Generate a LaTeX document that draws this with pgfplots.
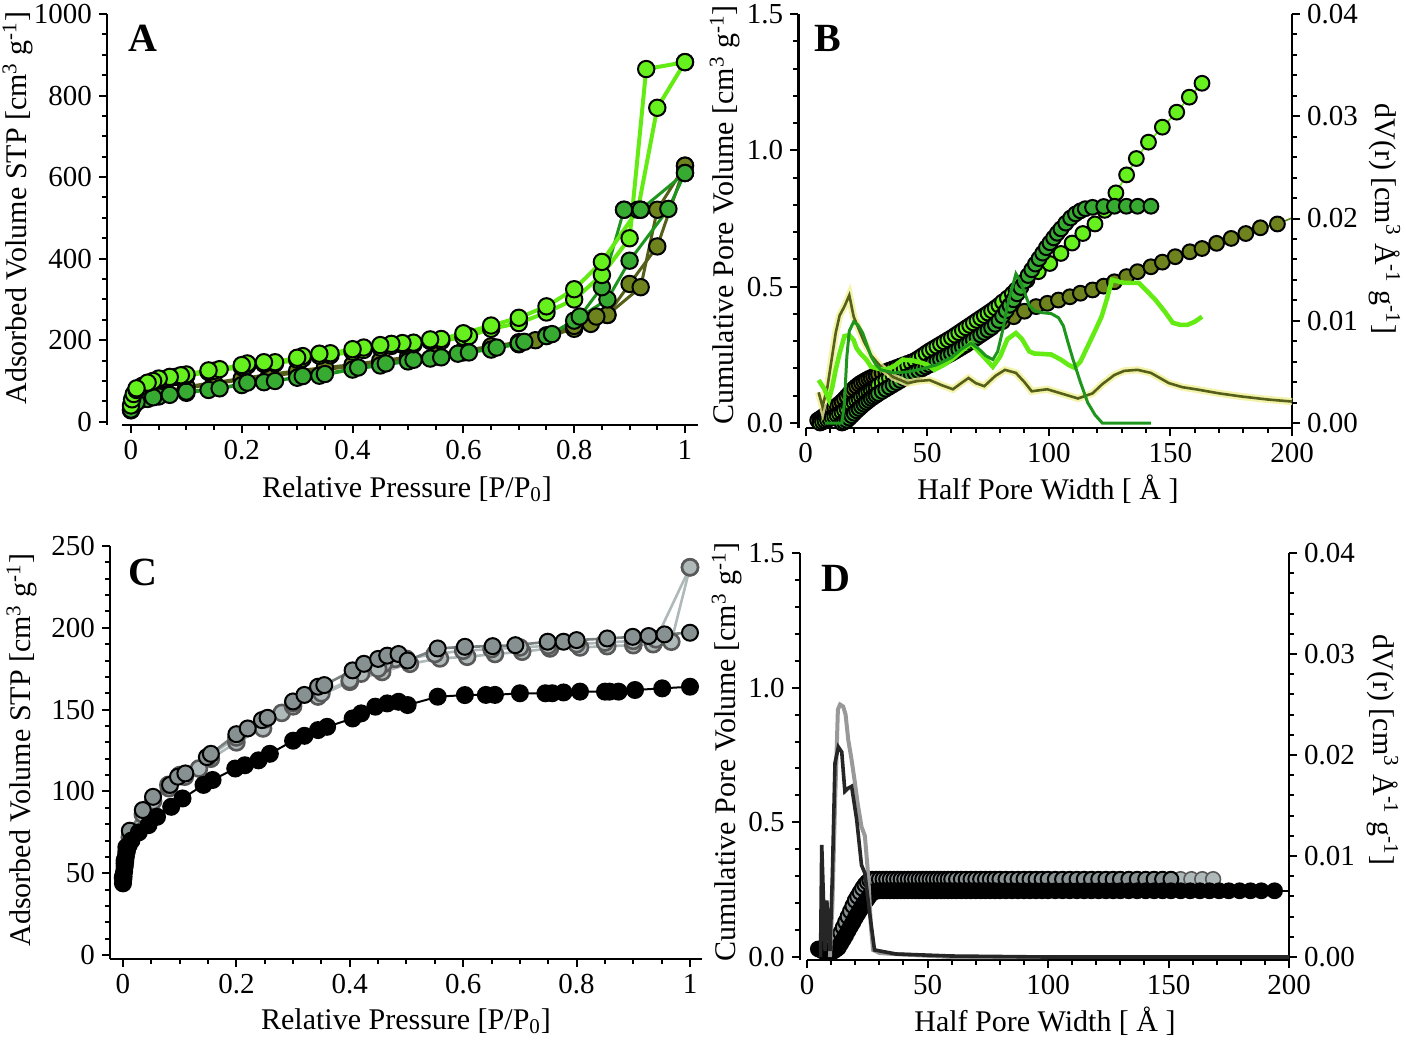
\documentclass[border=0pt]{standalone}
\usepackage{pgfplots}
\pgfplotsset{compat=1.18}
\usepackage{fontspec}
\setmainfont{Liberation Serif}

\definecolor{lgr}{RGB}{102,240,30}
\definecolor{lgrline}{RGB}{100,235,20}
\definecolor{mgr}{RGB}{55,170,50}
\definecolor{mgrline}{RGB}{30,150,30}
\definecolor{olv}{RGB}{110,130,30}
\definecolor{olvline}{RGB}{85,95,25}
\definecolor{glow}{RGB}{240,240,150}
\definecolor{gfill}{RGB}{135,145,145}
\definecolor{gline}{RGB}{120,128,128}
\definecolor{lgfill}{RGB}{210,218,218}
\definecolor{lgline}{RGB}{175,185,185}

\newcommand\tk{\fontsize{14.5}{16}\selectfont}
\newcommand\lb{\fontsize{15}{17}\selectfont}

\pgfplotsset{
  igor/.style={
    scale only axis, anchor=south west, clip=false,
    axis x line*=bottom, axis y line*=left,
    axis line style={-, line width=1.3pt},
    tick align=outside,
    major tick length=4pt, minor tick length=2.4pt,
    every tick/.style={black, line width=1pt},
    tick label style={font=\tk},
    /pgf/number format/assume math mode=true,
    /pgf/number format/1000 sep={},
    scaled ticks=false,
  },
  mk/.style 2 args={mark=*, mark size=#2, mark options={solid, fill=#1, draw=black, line width=1pt}},
}

\begin{document}
\begin{tikzpicture}
\path[use as bounding box] (0,0) rectangle (703pt,-520.5pt);

% ---------------- A ----------------
\begin{axis}[igor, at={(53.5pt,-212.5pt)}, width=295.5pt, height=205.5pt,
  xmin=-0.0433, xmax=1.0235, ymin=-8, ymax=1000,
  xtick={0,0.2,0.4,0.6,0.8,1}, minor x tick num=3,
  ytick={0,200,400,600,800,1000}, minor y tick num=3,
  x axis line style={shorten <=7.5pt}]
% olive
\addplot[olvline, line width=1.5pt, mk={olv}{4.1pt}] coordinates {
(0,28)(0.005,40)(0.01,48)(0.03,58)(0.05,66)(0.1,82)(0.15,93)(0.2,103)(0.25,112)(0.3,120)(0.35,128)(0.4,136)(0.45,144)(0.5,152)(0.55,160)(0.6,170)(0.65,180)(0.7,190)(0.73,200)(0.8,228)(0.83,240)(0.86,262)(0.9,338)(0.95,430)(1.0,628)};
\addplot[olvline, line width=1.5pt, mk={olv}{4.1pt}] coordinates {
(1.0,628)(0.95,520)(0.92,330)(0.86,262)(0.84,258)(0.8,235)(0.75,212)(0.7,195)(0.65,185)(0.6,175)(0.55,165)(0.5,158)(0.45,150)(0.4,140)(0.35,133)(0.3,125)(0.25,116)(0.2,106)(0.15,96)(0.1,86)(0.05,70)(0.02,55)};
% medium green
\addplot[mgrline, line width=1.5pt, mk={mgr}{4.1pt}] coordinates {
(0,30)(0.004,42)(0.01,50)(0.03,56)(0.05,62)(0.07,66)(0.1,71)(0.14,78)(0.2,90)(0.24,97)(0.3,108)(0.34,113)(0.4,128)(0.45,138)(0.5,148)(0.54,155)(0.59,167)(0.65,177)(0.7,192)(0.75,210)(0.8,248)(0.86,300)(0.9,395)(0.97,522)(1.0,610)};
\addplot[mgrline, line width=1.5pt, mk={mgr}{4.1pt}] coordinates {
(1.0,610)(0.92,520)(0.89,520)(0.85,330)(0.81,258)(0.76,215)(0.71,196)(0.66,182)(0.61,170)(0.56,158)(0.51,152)(0.46,143)(0.41,133)(0.35,117)(0.31,112)(0.26,100)(0.21,96)(0.16,82)(0.1,74)(0.04,60)(0.01,48)};
% light green
\addplot[lgrline, line width=2pt, mk={lgr}{4.1pt}] coordinates {
(0.000,40)(0.002,55)(0.005,68)(0.01,78)(0.02,88)(0.03,95)(0.04,99)(0.05,102)(0.06,105)(0.07,107)(0.08,110)(0.09,112)(0.10,113)(0.14,122)(0.15,125)(0.20,134)(0.21,138)(0.24,142)(0.26,143)(0.30,152)(0.31,155)(0.34,162)(0.36,163)(0.40,172)(0.42,176)(0.45,182)(0.47,186)(0.49,189)(0.51,190)(0.54,198)(0.56,198)(0.60,208)(0.61,210)(0.65,228)(0.70,242)(0.75,268)(0.80,300)(0.85,360)(0.90,450)(0.93,865)(1.00,882)};
\addplot[lgrline, line width=2pt, mk={lgr}{4.1pt}] coordinates {
(1.00,882)(0.95,770)(0.915,520)(0.85,392)(0.80,325)(0.75,283)(0.70,255)(0.65,236)(0.60,217)(0.56,203)(0.54,202)(0.51,194)(0.49,193)(0.47,191)(0.45,188)(0.42,182)(0.40,178)(0.36,168)(0.34,167)(0.31,161)(0.30,157)(0.26,146)(0.24,146)(0.21,143)(0.20,139)(0.16,129)(0.14,126)(0.10,116)(0.09,114)(0.07,110)(0.05,106)(0.04,100)(0.03,96)(0.01,82)};
\addplot[mgrline, line width=1.5pt, mk={mgr}{4.1pt}] coordinates {(0.89,520)(0.92,520)};
\end{axis}

% ---------------- B ----------------
\begin{axis}[igor, at={(399.1pt,-214pt)}, width=246.9pt, height=207pt,
  xmin=-3, xmax=200, ymin=-0.0183, ymax=1.5,
  xtick={0,50,100,150,200}, minor x tick num=4,
  ytick={0,0.5,1,1.5}, minor y tick num=4,
  yticklabel style={/pgf/number format/.cd, fixed, fixed zerofill, precision=1},
  x axis line style={shorten <=3.65pt}]
% olive cumulative
\addplot[olvline, line width=0.8pt, mk={olv}{3.7pt}] coordinates {
(5,0.010)(6,0.016)(7,0.022)(8,0.029)(9,0.036)(10,0.043)(11,0.050)(12,0.057)(13,0.064)(14,0.071)(15,0.079)(16,0.088)(17,0.098)(18,0.108)(19,0.118)(20,0.127)(21,0.135)(22,0.142)(23,0.148)(24,0.153)(25,0.158)(26,0.163)(27,0.167)(28,0.171)(29,0.175)(30,0.179)(31.5,0.184)(33,0.189)(34.5,0.194)(36,0.199)(37.5,0.204)(39,0.209)(40.5,0.214)(42,0.219)(43.5,0.224)(45,0.229)(46.5,0.234)(48,0.239)(49.5,0.244)(51,0.249)(52.5,0.254)(54,0.259)(55.5,0.264)(57,0.269)(58.5,0.274)(60,0.279)(62.4,0.287)(67,0.305)(71.7,0.33)(76,0.348)(81,0.372)(85.6,0.39)(90,0.41)(94.8,0.427)(99.4,0.439)(104,0.451)(108.7,0.463)(113,0.476)(118,0.488)(122.6,0.502)(127,0.518)(132,0.537)(136.5,0.555)(142,0.573)(146.7,0.59)(152,0.61)(158,0.628)(163,0.64)(169,0.659)(175,0.677)(181,0.695)(187,0.716)(194,0.73)};
\addplot[olvline!70!lgr, line width=0.8pt] coordinates {(194,0.73)(200,0.752)};
% light green cumulative
\addplot[lgrline, line width=0.8pt, mk={lgr}{3.7pt}] coordinates {
(6,0.000)(7,0.004)(8,0.008)(9,0.012)(10,0.016)(11,0.020)(12,0.024)(13,0.029)(14,0.034)(15,0.040)(16,0.047)(17,0.054)(18,0.061)(19,0.068)(20,0.075)(21,0.082)(22,0.089)(23,0.096)(24,0.103)(25,0.109)(26,0.115)(27,0.121)(28,0.127)(29,0.133)(30,0.139)(31.5,0.148)(33,0.157)(34.5,0.166)(36,0.175)(37.5,0.184)(39,0.193)(40.5,0.202)(42,0.211)(43.5,0.220)(45,0.229)(46.5,0.238)(48,0.247)(49.5,0.256)(51,0.265)(52.5,0.273)(54,0.281)(55.5,0.289)(57,0.297)(58.5,0.305)(60,0.313)(61.5,0.322)(63,0.331)(64.5,0.340)(66,0.349)(67.5,0.358)(69,0.367)(70.5,0.376)(72,0.385)(73.5,0.394)(75,0.403)(76.5,0.412)(78,0.422)(79.5,0.432)(81,0.444)(83,0.458)(85,0.474)(86.5,0.488)(91,0.524)(95.7,0.555)(100.4,0.585)(105,0.622)(109.6,0.66)(114,0.695)(119,0.73)(123,0.78)(127.6,0.844)(132,0.91)(136,0.97)(141,1.03)(146.7,1.085)(152.6,1.14)(157.8,1.195)(163,1.246)};
% medium green cumulative
\addplot[mgrline, line width=0.8pt, mk={mgr}{3.7pt}] coordinates {
(15,0.000)(16,0.004)(17,0.010)(18,0.018)(19,0.027)(20,0.036)(21,0.045)(22,0.053)(23,0.061)(24,0.069)(25,0.076)(26,0.083)(27,0.090)(28,0.096)(29,0.102)(30,0.108)(31.5,0.116)(33,0.124)(34.5,0.132)(36,0.140)(37.5,0.148)(39,0.156)(40.5,0.164)(42,0.171)(43.5,0.178)(45,0.185)(46.5,0.192)(48,0.199)(49.5,0.206)(51,0.213)(52.5,0.220)(54,0.227)(55.5,0.234)(57,0.241)(58.5,0.248)(60,0.255)(61.5,0.263)(63,0.271)(64.5,0.279)(66,0.287)(67.5,0.296)(69,0.305)(70.5,0.314)(72,0.323)(73.5,0.332)(75,0.341)(76.5,0.350)(78,0.362)(79.5,0.376)(81,0.393)(82.5,0.412)(84,0.432)(85.5,0.452)(87,0.474)(88.5,0.497)(90,0.52)(91.5,0.541)(93,0.562)(94.5,0.583)(96,0.603)(97.5,0.623)(99,0.643)(100.5,0.661)(102,0.679)(103.5,0.696)(105,0.712)(107,0.733)(109,0.752)(111,0.767)(113,0.778)(115,0.786)(118,0.791)(122.6,0.794)(127,0.795)(131.9,0.795)(136.5,0.795)(142,0.795)};
\end{axis}
\begin{axis}[igor, at={(399.1pt,-214pt)}, width=246.9pt, height=207pt,
  xmin=-3, xmax=200, ymin=-0.000489, ymax=0.04,
  axis x line=none, axis y line*=right,
  ytick={0,0.01,0.02,0.03,0.04}, minor y tick num=4,
  yticklabel style={/pgf/number format/.cd, fixed, fixed zerofill, precision=2}]
% olive PSD with glow
\addplot[glow, line width=3.6pt, opacity=0.8] coordinates {
(5.4,0.0030)(7,0.0016)(9,0.0035)(12.4,0.0088)(14,0.0105)(16,0.0114)(18,0.0125)(19.8,0.0104)(21.7,0.0093)(24,0.0080)(27,0.0066)(31,0.0055)(36,0.0045)(42,0.0039)(46,0.0041)(51,0.0042)(56,0.0037)(60.6,0.0033)(64,0.0039)(67,0.0044)(70,0.0039)(73.5,0.0036)(78,0.0046)(82,0.0052)(86.5,0.0049)(90,0.0040)(93,0.0031)(96,0.0032)(99.4,0.0033)(105,0.0029)(112,0.0024)(118,0.0029)(122,0.0038)(127,0.0047)(131,0.0051)(136.5,0.0052)(142,0.0049)(149.4,0.0039)(155,0.0035)(160.5,0.0033)(170,0.0029)(179,0.0026)(190,0.0023)(200,0.0021)};
\addplot[olvline, line width=1.3pt] coordinates {
(5.4,0.0030)(7,0.0016)(9,0.0035)(12.4,0.0088)(14,0.0105)(16,0.0114)(18,0.0125)(19.8,0.0104)(21.7,0.0093)(24,0.0080)(27,0.0066)(31,0.0055)(36,0.0045)(42,0.0039)(46,0.0041)(51,0.0042)(56,0.0037)(60.6,0.0033)(64,0.0039)(67,0.0044)(70,0.0039)(73.5,0.0036)(78,0.0046)(82,0.0052)(86.5,0.0049)(90,0.0040)(93,0.0031)(96,0.0032)(99.4,0.0033)(105,0.0029)(112,0.0024)(118,0.0029)(122,0.0038)(127,0.0047)(131,0.0051)(136.5,0.0052)(142,0.0049)(149.4,0.0039)(155,0.0035)(160.5,0.0033)(170,0.0029)(179,0.0026)(190,0.0023)(200,0.0021)};
% light green PSD
\addplot[lgrline, line width=2.3pt] coordinates {
(5.4,0.0042)(7.8,0.0033)(9.6,0.0023)(11,0.0035)(12.4,0.0052)(14,0.0068)(16,0.0085)(18,0.0086)(19.8,0.0081)(21,0.0073)(22.6,0.0068)(25,0.0062)(27,0.0055)(30,0.0053)(32.8,0.0052)(36,0.0055)(40,0.0062)(44,0.0061)(47.6,0.0059)(50,0.0057)(53,0.0052)(57,0.0057)(60.6,0.0063)(64,0.0070)(68,0.0078)(72,0.0068)(77,0.0055)(80,0.0065)(83,0.0082)(86.5,0.0088)(89,0.0082)(92,0.0070)(94,0.0068)(101,0.0067)(105,0.0062)(108,0.0057)(110.6,0.0054)(113,0.0060)(116,0.0075)(119,0.0090)(121.7,0.0104)(124,0.0122)(126,0.0140)(131,0.0137)(137,0.0137)(140,0.0130)(144,0.0120)(148,0.0108)(151,0.0098)(154,0.0096)(157,0.0096)(160,0.0099)(163,0.0104)};
% medium green PSD
\addplot[mgrline, line width=1.5pt] coordinates {
(8,0)(15,0)(16,0.002)(17,0.0065)(18,0.0090)(19.8,0.0099)(21.5,0.0096)(23.5,0.0088)(25,0.0078)(27,0.0065)(29,0.0057)(31,0.0052)(36.5,0.0049)(42,0.0050)(48,0.0053)(54,0.0057)(60,0.0064)(64,0.0072)(68,0.0078)(71,0.0073)(74,0.0066)(77,0.0062)(79,0.0070)(81,0.0090)(83,0.0115)(86.5,0.0146)(88,0.0140)(90,0.0128)(92,0.0115)(94,0.0110)(97,0.0108)(101,0.0107)(104,0.0103)(106,0.0095)(108,0.0078)(110,0.0062)(113,0.0040)(116,0.0020)(119,0.0008)(122,0.0)(142,0.0)};
\end{axis}

% ---------------- C ----------------
\begin{axis}[igor, at={(55pt,-479.5pt)}, width=295.75pt, height=206.5pt,
  xmin=-0.0229, xmax=1.0203, ymin=-2.44, ymax=250,
  xtick={0,0.2,0.4,0.6,0.8,1}, minor x tick num=3,
  ytick={0,50,100,150,200,250}, minor y tick num=4]
% light gray
\addplot[lgline, line width=1.3pt, mk={lgfill}{4pt}, mark options={draw=black!65}] coordinates {
(0.0,47)(0.003,56)(0.006,63)(0.012,72)(0.035,86)(0.053,94)(0.081,102)(0.109,109)(0.134,114)(0.155,120)(0.2,130)(0.247,138.5)(0.28,148)(0.3,152)(0.344,158)(0.4,167)(0.457,173)(0.506,178)(0.559,181.3)(0.607,182.3)(0.656,184)(0.704,185.4)(0.753,187.4)(0.806,188)(0.854,188.8)(0.9,189.4)(0.935,190)(0.967,191.5)(1.0,237)};
\addplot[lgline, line width=1.3pt, mk={lgfill}{4pt}, mark options={draw=black!65}] coordinates {
(1.0,237)(0.94,193)(0.9,192)(0.85,191)(0.8,190)(0.75,189)(0.7,188)(0.65,187)(0.6,186)(0.55,184)(0.5,181)(0.48,181)(0.46,178)(0.45,175)(0.42,172)(0.4,168)(0.35,160)(0.3,154)(0.25,144)(0.2,133)(0.15,121)(0.1,110)(0.08,104)};
% medium gray
\addplot[gline, line width=1.3pt, mk={gfill}{4pt}] coordinates {
(0.0,48)(0.003,58)(0.006,66)(0.012,76)(0.035,88.6)(0.053,96.7)(0.083,104)(0.097,109)(0.11,111)(0.148,121)(0.155,123)(0.2,135)(0.22,138.5)(0.245,143.6)(0.255,145)(0.3,155)(0.32,159)(0.344,164)(0.355,165)(0.405,174)(0.425,178)(0.45,181)(0.466,183)(0.486,184)(0.502,180)(0.555,187.4)(0.603,188.4)(0.652,188.8)(0.692,189.4)(0.749,191.5)(0.777,191.5)(0.8,192.5)(0.854,193.5)(0.899,194.5)(0.927,195)(0.955,196)(1.0,197)};
% black
\addplot[black, line width=1pt, mk={black}{4pt}] coordinates {
(0.0,43.8)(0.0005,46)(0.001,48)(0.002,51)(0.003,54)(0.004,57)(0.005,60)(0.007,64)(0.01,67)(0.015,70)(0.028,75)(0.045,79.4)(0.06,84.5)(0.085,90.6)(0.105,95.7)(0.142,104)(0.158,107)(0.198,114)(0.215,116)(0.239,119)(0.259,123)(0.3,131)(0.32,134)(0.344,137.5)(0.36,139.5)(0.405,144.6)(0.42,147.7)(0.445,151.8)(0.466,153.8)(0.486,154.8)(0.502,152.8)(0.555,157.9)(0.603,158.9)(0.64,159)(0.656,159)(0.7,160)(0.745,160)(0.757,160)(0.777,160.5)(0.806,161)(0.85,161)(0.858,161)(0.874,161)(0.903,162)(0.951,163)(1.0,164)};
\end{axis}

% ---------------- D ----------------
\begin{axis}[igor, at={(399.9pt,-480pt)}, width=244.6pt, height=203.5pt,
  xmin=-3, xmax=200, ymin=-0.0111, ymax=1.5,
  xtick={0,50,100,150,200}, minor x tick num=4,
  ytick={0,0.5,1,1.5}, minor y tick num=4,
  yticklabel style={/pgf/number format/.cd, fixed, fixed zerofill, precision=1},
  x axis line style={shorten <=3.6pt}]
% light gray cumulative
\addplot[lgline, line width=0.8pt, mk={lgfill}{3.7pt}, mark options={draw=black!65}] coordinates {
(5.5,0.03)(7,0.025)(8.5,0.02)(10,0.025)(11,0.035)(12,0.05)(13,0.07)(14,0.09)(15,0.11)(16,0.13)(17,0.15)(18,0.17)(19,0.19)(20,0.21)(21,0.225)(22,0.24)(23,0.255)(24,0.268)(25,0.278)(26,0.285)(27,0.289)(28.5,0.289)(30,0.289)(31.5,0.289)(33,0.289)(34.5,0.289)(36,0.289)(37.5,0.289)(39,0.289)(40.5,0.289)(42,0.289)(43.5,0.289)(45,0.289)(46.5,0.289)(48,0.289)(49.5,0.289)(51,0.289)(52.5,0.289)(54,0.289)(55.5,0.289)(57,0.289)(58.5,0.289)(60,0.289)(62,0.289)(64,0.289)(66,0.289)(68,0.289)(70,0.289)(72,0.289)(74,0.289)(76,0.289)(78,0.289)(80,0.289)(82.5,0.289)(85,0.289)(87.5,0.289)(90,0.289)(92.5,0.289)(95,0.289)(97.5,0.289)(100,0.289)(103,0.289)(106,0.289)(109,0.289)(112,0.289)(115,0.289)(118,0.289)(121,0.289)(124,0.289)(127,0.289)(130,0.289)(133.5,0.289)(137,0.289)(140.5,0.289)(144,0.289)(147.5,0.289)(151,0.289)(155,0.289)(159.5,0.289)(164,0.289)(168.5,0.289)};
% gray cumulative
\addplot[gline, line width=0.8pt, mk={gfill}{3.7pt}] coordinates {
(5.5,0.03)(7,0.025)(8.5,0.02)(10,0.025)(11,0.035)(12,0.05)(13,0.07)(14,0.09)(15,0.11)(16,0.13)(17,0.15)(18,0.17)(19,0.19)(20,0.21)(21,0.225)(22,0.24)(23,0.255)(24,0.268)(25,0.278)(26,0.285)(27,0.289)(28.5,0.289)(30,0.289)(31.5,0.289)(33,0.289)(34.5,0.289)(36,0.289)(37.5,0.289)(39,0.289)(40.5,0.289)(42,0.289)(43.5,0.289)(45,0.289)(46.5,0.289)(48,0.289)(49.5,0.289)(51,0.289)(52.5,0.289)(54,0.289)(55.5,0.289)(57,0.289)(58.5,0.289)(60,0.289)(62,0.289)(64,0.289)(66,0.289)(68,0.289)(70,0.289)(72,0.289)(74,0.289)(76,0.289)(78,0.289)(80,0.289)(82.5,0.289)(85,0.289)(87.5,0.289)(90,0.289)(92.5,0.289)(95,0.289)(97.5,0.289)(100,0.289)(103,0.289)(106,0.289)(109,0.289)(112,0.289)(115,0.289)(118,0.289)(121,0.289)(124,0.289)(127,0.289)(130,0.289)(133.5,0.289)(137,0.289)(140.5,0.289)(144,0.289)(147.5,0.289)(151,0.289)};
% black cumulative
\addplot[black, line width=0.8pt, mk={black}{3.7pt}] coordinates {
(4.7,0.03)(6,0.025)(7,0.02)(8,0.018)(9.5,0.016)(11,0.022)(12,0.028)(13,0.035)(14,0.05)(15,0.065)(16,0.08)(17,0.097)(18,0.113)(19,0.128)(20,0.145)(21,0.16)(22,0.175)(23,0.19)(24,0.203)(25,0.215)(26,0.228)(27,0.238)(28,0.243)(29,0.245)(30,0.246)(31.5,0.246)(33,0.246)(34.5,0.246)(36,0.246)(37.5,0.246)(39,0.246)(40.5,0.246)(42,0.246)(43.5,0.246)(45,0.246)(46.5,0.246)(48,0.246)(49.5,0.246)(51,0.246)(52.5,0.246)(54,0.246)(55.5,0.246)(57,0.246)(58.5,0.246)(60,0.246)(62,0.246)(64,0.246)(66,0.246)(68,0.246)(70,0.246)(72,0.246)(74,0.246)(76,0.246)(78,0.246)(80,0.246)(82.5,0.246)(85,0.246)(87.5,0.246)(90,0.246)(92.5,0.246)(95,0.246)(97.5,0.246)(100,0.246)(103,0.246)(106,0.246)(109,0.246)(112,0.246)(115,0.246)(118,0.246)(121,0.246)(124,0.246)(127,0.246)(130,0.246)(133.5,0.246)(137,0.246)(140.5,0.246)(144,0.246)(147.5,0.246)(151,0.246)(155,0.246)(159,0.246)(163,0.246)(167,0.246)(171,0.246)(175,0.246)(179.5,0.246)(184,0.246)(188.5,0.246)(194,0.246)};
\addplot[black, line width=0.8pt] coordinates {(194,0.246)(200,0.246)};
\end{axis}
\begin{axis}[igor, at={(399.9pt,-480pt)}, width=244.6pt, height=203.5pt,
  xmin=-3, xmax=200, ymin=-0.000297, ymax=0.04,
  axis x line=none, axis y line*=right,
  ytick={0,0.01,0.02,0.03,0.04}, minor y tick num=4,
  yticklabel style={/pgf/number format/.cd, fixed, fixed zerofill, precision=2}]
\addplot[gray!80, line width=2pt] coordinates {
(9.5,0.0)(10.5,0.005)(11.6,0.015)(12.8,0.0245)(13.7,0.0250)(15,0.0248)(16,0.0240)(17.1,0.0215)(18.5,0.0195)(19.9,0.0172)(21,0.0152)(22.6,0.0129)(24,0.0120)(25.4,0.0080)(26.5,0.0030)(27.4,0.0007)(30,0.0004)(36,0.0003)(60,0.0)(100,0.0)};
\addplot[black!85, line width=1.8pt] coordinates {
(5.6,0.0)(6.1,0.0111)(7.5,0.0006)(8.2,0.0056)(9.5,0.0006)(10.5,0.008)(11.6,0.0192)(13,0.0208)(14.4,0.0203)(15.7,0.0164)(17,0.0167)(18.5,0.0169)(20.6,0.0136)(22.6,0.0091)(24,0.0083)(26,0.0043)(28,0.0007)(36.9,0.0003)(60,0.0001)(100,0.0)(200,0.0)};
\end{axis}

% ---------------- labels ----------------
\begin{scope}[every node/.style={font=\lb, inner sep=0pt}]
\node[rotate=90] at (9pt,-104pt) {Adsorbed Volume STP [cm\textsuperscript{3} g\textsuperscript{-1}]};
\node at (203.5pt,-244.5pt) {Relative Pressure [P/P\textsubscript{0}]};
\node[rotate=90] at (362.5pt,-107.5pt) {Cumulative Pore Volume [cm\textsuperscript{3} g\textsuperscript{-1}]};
\node[rotate=-90] at (692.5pt,-109.5pt) {dV(r) [cm\textsuperscript{3} Å\textsuperscript{-1} g\textsuperscript{-1}]};
\node at (524pt,-244.5pt) {Half Pore Width [ Å ]};
\node[rotate=90] at (11pt,-375pt) {Adsorbed Volume STP [cm\textsuperscript{3} g\textsuperscript{-1}]};
\node at (203pt,-510.5pt) {Relative Pressure [P/P\textsubscript{0}]};
\node[rotate=90] at (363.5pt,-376pt) {Cumulative Pore Volume [cm\textsuperscript{3} g\textsuperscript{-1}]};
\node[rotate=-90] at (691.5pt,-375pt) {dV(r) [cm\textsuperscript{3} Å\textsuperscript{-1} g\textsuperscript{-1}]};
\node at (522.5pt,-510.5pt) {Half Pore Width [ Å ]};
\end{scope}
\begin{scope}[every node/.style={font=\fontsize{20}{22}\selectfont\bfseries, inner sep=0pt}]
\node at (71.5pt,-19pt) {A};
\node at (414pt,-19pt) {B};
\node at (71.5pt,-286pt) {C};
\node at (418pt,-289pt) {D};
\end{scope}
\end{tikzpicture}
\end{document}
